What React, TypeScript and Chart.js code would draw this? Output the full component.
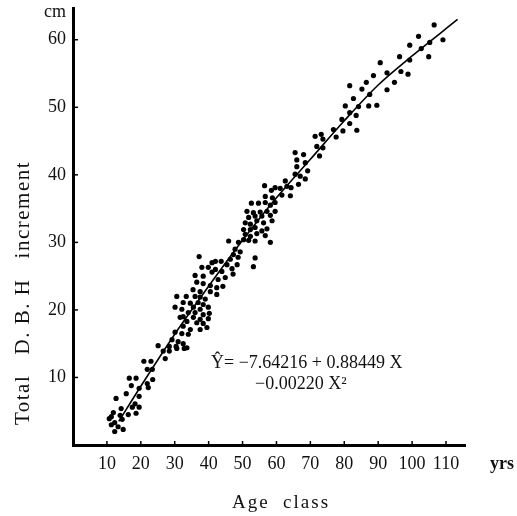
import React, { useEffect, useRef } from 'react';
import { Chart, registerables } from 'chart.js';

Chart.register(...registerables);

// Observed points: age class (yrs) and total D.B.H increment (cm)
const ageX = [
  25.1, 28.4, 30.4, 32.8, 28.4, 27.2, 20.9, 23.0, 21.9, 23.4, 16.6, 18.6, 23.5, 17.2, 21.9, 22.2, 19.5, 15.7,
  19.5, 12.7, 18.3, 17.5, 19.5, 14.2, 16.3, 18.6, 11.9, 11.3, 10.7, 13.9, 14.5, 11.3, 12.3, 13.3, 14.8, 12.3,
  37.2, 42.0, 43.7, 46.4, 48.7, 38.0, 39.9, 42.0, 43.9, 46.9, 48.4, 36.0, 38.4, 41.0, 42.8, 44.9, 47.2, 36.5,
  38.4, 40.5, 42.4, 44.2, 35.4, 37.5, 40.5, 42.4, 30.6, 33.4, 36.0, 37.5, 39.0, 32.5, 34.6, 36.9, 38.4, 39.9,
  30.1, 32.1, 35.5, 37.5, 34.0, 36.0, 38.4, 40.2, 31.6, 32.5, 35.5, 37.5, 39.9, 33.6, 36.5, 38.4, 32.5, 34.6,
  37.5, 39.5, 30.1, 32.1, 34.0, 29.2, 31.0, 32.5, 33.6, 26.6, 30.6,
  56.5, 58.5, 59.6, 56.7, 58.8, 52.6, 54.7, 56.7, 58.2, 59.6, 51.3, 53.2, 55.2, 57.2, 59.6, 51.8, 53.7, 55.7,
  58.2, 50.8, 52.3, 54.2, 56.2, 58.7, 50.3, 52.3, 53.7, 55.7, 57.2, 50.8, 52.3, 54.2, 56.7, 50.3, 51.8, 53.7,
  58.2, 45.9, 48.8, 47.8, 49.3, 47.3, 53.7, 41.0, 45.4, 53.2,
  73.2, 71.4, 73.7, 71.9, 73.7, 72.7, 65.5, 68.0, 66.0, 68.5, 66.0, 69.2, 65.5, 67.0, 68.5, 62.6, 66.5, 61.1,
  63.1, 64.3, 61.6, 64.1,
  76.8, 79.6, 77.6, 80.3, 81.6, 83.5, 81.6, 83.7, 87.2, 89.6,
  96.3, 90.6, 88.6, 92.6, 86.5, 94.8, 81.6, 85.2, 92.6, 87.5, 82.7, 84.2, 79.3,
  106.5, 101.9, 109.1, 99.3, 105.2, 102.7, 99.3, 104.9, 96.7, 98.8,
];
const incY = [
  14.7, 14.6, 14.6, 14.3, 13.9, 12.8, 12.4, 12.4, 11.2, 11.2, 9.9, 9.9, 9.7, 8.8, 9.1, 8.5, 8.4, 7.6,
  7.2, 6.9, 6.1, 5.6, 5.6, 5.4, 4.5, 4.7, 4.8, 4.2, 3.9, 4.4, 3.8, 3.0, 3.3, 2.7, 2.3, 2.0,
  27.9, 27.2, 27.2, 27.5, 27.8, 26.3, 26.3, 26.0, 25.7, 26.1, 26.7, 25.1, 25.0, 25.6, 24.5, 24.8, 25.3, 24.1,
  23.9, 23.6, 23.3, 23.5, 23.0, 22.7, 22.7, 22.3, 22.0, 22.0, 22.0, 21.9, 21.6, 21.1, 21.0, 21.1, 20.8, 20.4,
  20.4, 20.1, 20.4, 20.1, 19.6, 19.6, 19.3, 19.5, 18.9, 19.0, 18.9, 18.6, 18.7, 18.3, 18.1, 18.0, 17.6, 17.1,
  17.1, 17.4, 16.7, 16.5, 16.4, 15.6, 15.3, 15.0, 14.4, 13.9, 14.3,
  38.4, 37.7, 38.1, 36.8, 36.6, 35.8, 35.8, 35.9, 35.5, 35.9, 34.6, 34.4, 34.5, 34.6, 34.6, 33.7, 33.9, 33.9,
  34.0, 32.9, 32.7, 33.2, 32.9, 33.2, 31.9, 31.9, 32.2, 31.7, 32.0, 31.2, 30.9, 31.3, 31.0, 30.4, 30.3, 30.2,
  30.0, 30.2, 30.0, 29.0, 28.6, 28.2, 27.7, 27.0, 26.7, 26.4,
  46.0, 45.7, 45.3, 44.2, 44.0, 42.8, 43.3, 43.0, 42.2, 41.8, 41.2, 40.6, 40.1, 39.8, 39.4, 39.1, 38.6, 38.0,
  38.3, 38.1, 37.0, 36.9,
  46.7, 46.5, 45.6, 50.2, 49.2, 48.8, 47.6, 46.6, 50.2, 50.3,
  57.5, 56.6, 54.7, 55.1, 53.7, 53.7, 53.2, 52.7, 52.6, 51.9, 51.3, 50.1, 48.2,
  62.2, 60.5, 60.0, 59.2, 59.6, 58.7, 57.0, 57.5, 55.3, 54.9,
];

// Fitted regression curve as drawn in the figure
const fitX = [13.5, 20, 30, 40, 50, 60, 70, 80, 90, 100, 113.4];
const fitY = [3.5, 8.7, 16.4, 23.5, 30.3, 36.6, 42.3, 48.0, 53.3, 57.6, 63.0];

const xTicks = [10, 20, 30, 40, 50, 60, 70, 80, 90, 100, 110];
const yTicks = [10, 20, 30, 40, 50, 60];
const xMin = 0;
const xMax = 115.6;
const yMin = 0;
const yMax = 64.7;

const xUnit = 'yrs';
const yUnit = 'cm';
const xTitle = 'Age  class';
const yTitle = 'Total   D. B. H   increment';
const eqLine1 = 'Ŷ= −7.64216 + 0.88449 X';
const eqLine2 = '−0.00220 X²';

const FONT = '"Liberation Serif", "Times New Roman", serif';

const decorPlugin = {
  id: 'decor',
  afterDraw(chart: any) {
    const { ctx, chartArea } = chart;
    const xs = chart.scales.x;
    const ys = chart.scales.y;
    ctx.save();
    ctx.strokeStyle = '#000';
    ctx.lineWidth = 1.5;
    xTicks.forEach((v) => {
      const px = xs.getPixelForValue(v);
      ctx.beginPath();
      ctx.moveTo(px, chartArea.bottom);
      ctx.lineTo(px, chartArea.bottom - 4);
      ctx.stroke();
    });
    yTicks.forEach((v) => {
      const py = ys.getPixelForValue(v);
      ctx.beginPath();
      ctx.moveTo(chartArea.left, py);
      ctx.lineTo(chartArea.left + 5, py);
      ctx.stroke();
    });

    ctx.fillStyle = '#111';
    ctx.textBaseline = 'middle';
    // unit labels
    ctx.font = `18px ${FONT}`;
    ctx.textAlign = 'right';
    ctx.fillText(yUnit, chartArea.left - 7, 12);
    ctx.font = `bold 18px ${FONT}`;
    ctx.textAlign = 'left';
    ctx.fillText(xUnit, chartArea.right + 25, chartArea.bottom + 19);

    // axis titles
    ctx.font = `19px ${FONT}`;
    (ctx as any).letterSpacing = '2px';
    ctx.textAlign = 'center';
    ctx.fillText(xTitle, 281, chartArea.bottom + 58);
    (ctx as any).letterSpacing = '1.5px';
    ctx.font = `21px ${FONT}`;
    ctx.save();
    ctx.translate(23, 293);
    ctx.rotate(-Math.PI / 2);
    ctx.fillText(yTitle, 0, 0);
    ctx.restore();
    (ctx as any).letterSpacing = '0px';

    // regression equation
    ctx.font = `18px ${FONT}`;
    ctx.textAlign = 'left';
    ctx.fillText(eqLine1, 211, 363);
    ctx.fillText(eqLine2, 255, 384);
    ctx.restore();
  },
};

const noPad = (s: any) => {
  s.paddingTop = 0;
  s.paddingBottom = 0;
  s.paddingLeft = 0;
  s.paddingRight = 0;
};

export default function App() {
  const ref = useRef<HTMLCanvasElement | null>(null);

  useEffect(() => {
    document.body.style.margin = '0';
    const canvas = ref.current;
    if (!canvas) return;
    const chart = new Chart(canvas, {
      type: 'scatter',
      data: {
        datasets: [
          {
            type: 'scatter',
            data: ageX.map((x, i) => ({ x, y: incY[i] })),
            backgroundColor: '#000',
            borderWidth: 0,
            pointRadius: 2.6,
          },
          {
            type: 'line',
            data: fitX.map((x, i) => ({ x, y: fitY[i] })),
            borderColor: '#000',
            borderWidth: 1.6,
            pointRadius: 0,
            tension: 0.4,
            cubicInterpolationMode: 'monotone',
            fill: false,
          } as any,
        ],
      },
      options: {
        responsive: false,
        animation: false,
        layout: { padding: { top: 8, right: 52, left: 0, bottom: 0 } },
        plugins: {
          legend: { display: false },
          tooltip: { enabled: false },
          title: { display: false },
        },
        scales: {
          x: {
            type: 'linear',
            min: xMin,
            max: xMax,
            afterBuildTicks: (s: any) => {
              s.ticks = xTicks.map((v) => ({ value: v }));
            },
            afterFit: (s: any) => {
              s.height = 71;
              noPad(s);
            },
            grid: { display: true, drawOnChartArea: false, drawTicks: false },
            border: { display: true, color: '#000', width: 3 },
            ticks: {
              color: '#111',
              padding: 8,
              maxRotation: 0,
              autoSkip: false,
              font: { family: FONT, size: 18 },
            },
          },
          y: {
            type: 'linear',
            min: yMin,
            max: yMax,
            afterBuildTicks: (s: any) => {
              s.ticks = yTicks.map((v) => ({ value: v }));
            },
            afterFit: (s: any) => {
              s.width = 73;
              noPad(s);
            },
            grid: { display: true, drawOnChartArea: false, drawTicks: false },
            border: { display: true, color: '#000', width: 3 },
            ticks: {
              color: '#111',
              padding: 7,
              autoSkip: false,
              font: { family: FONT, size: 18 },
            },
          },
        },
      },
      plugins: [decorPlugin],
    });
    return () => chart.destroy();
  }, []);

  return (
    <div style={{ position: 'absolute', left: 0, top: 0, width: 517, height: 516, background: '#fff' }}>
      <canvas ref={ref} width={517} height={516} />
    </div>
  );
}
